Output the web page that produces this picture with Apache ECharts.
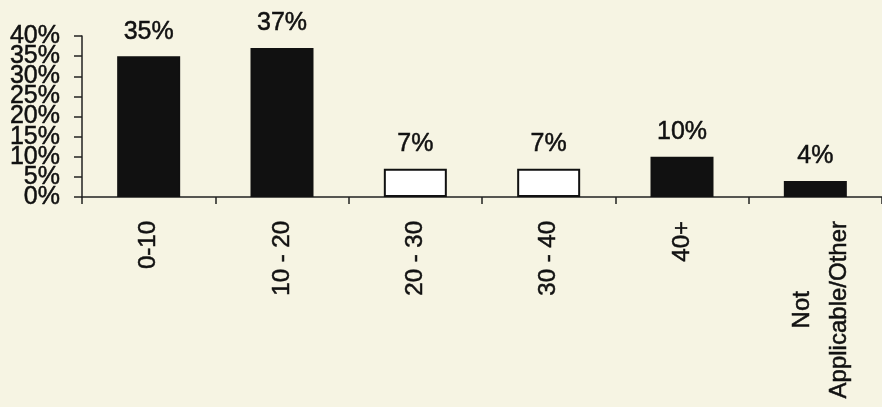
<!DOCTYPE html>
<html>
<head>
<meta charset="utf-8">
<script src="https://cdn.jsdelivr.net/npm/echarts@6/dist/echarts.min.js"></script>
<style>
  html, body { margin: 0; padding: 0; background: #f6f4e3; }
  #chart { width: 882px; height: 407px; }
</style>
</head>
<body>
<div id="chart"></div>
<script>
// Share of responses by range
const categories = ['0-10', '10 - 20', '20 - 30', '30 - 40', '40+', 'Not\nApplicable/Other'];
const percentValues = [35, 37, 7, 7, 10, 4];
const barFills = ['#111111', '#111111', '#ffffff', '#ffffff', '#111111', '#111111'];
const yTickLabels = ['0%', '5%', '10%', '15%', '20%', '25%', '30%', '35%', '40%'];

const FONT = '"Liberation Sans", Arial, Helvetica, sans-serif';
const INK = '#111111';
const Y_MIN = 0, Y_MAX = 40, Y_STEP = 5;

const chart = echarts.init(document.getElementById('chart'));

// The percent labels sit so close together that they touch; they are split
// across two stacked value axes (even steps / odd steps) sharing one scale.
function yLabelStyle(parity) {
  return {
    margin: 22,
    showMinLabel: parity === 0 ? true : false,
    showMaxLabel: parity === 0 ? true : false,
    hideOverlap: false,
    color: INK,
    fontFamily: FONT,
    fontSize: 25,
    lineHeight: 12,
    textBorderColor: INK,
    textBorderWidth: 0.5,
    formatter: function (v) {
      const idx = Math.round(v / Y_STEP);
      return idx % 2 === parity ? yTickLabels[idx] : '';
    }
  };
}

// Two-line category labels get a little extra room before the first line.
const categoryItems = categories.map(function (c) {
  return c.indexOf('\n') >= 0 ? { value: c, textStyle: { padding: [12, 0, 0, 0] } } : c;
});

chart.setOption({
  backgroundColor: '#f6f4e3',
  animation: false,
  grid: { left: 82, right: -4, top: 36, bottom: 210, containLabel: false },
  xAxis: {
    type: 'category',
    data: categoryItems,
    boundaryGap: true,
    axisLine: { show: true, lineStyle: { color: '#222', width: 1.5 } },
    axisTick: { show: true, alignWithLabel: false, interval: 0, length: 7, lineStyle: { color: '#222', width: 1.5 } },
    axisLabel: {
      interval: 0,
      rotate: 90,
      margin: 24,
      hideOverlap: false,
      color: INK,
      fontFamily: FONT,
      fontSize: 24,
      textBorderColor: INK,
      textBorderWidth: 0.5,
      formatter: function (v) {
        return v.split('\n').map(function (s) { return '{c|' + s + '}'; }).join('\n');
      },
      rich: {
        c: { align: 'center', fontFamily: FONT, fontSize: 24, color: INK, lineHeight: 37,
             textBorderColor: INK, textBorderWidth: 0.5 }
      }
    }
  },
  yAxis: [{
    type: 'value',
    position: 'left',
    min: Y_MIN,
    max: Y_MAX,
    interval: Y_STEP * 2,
    splitLine: { show: false },
    axisLine: { show: true, lineStyle: { color: '#222', width: 1.5 } },
    axisTick: { show: true, length: 8, lineStyle: { color: '#222', width: 1.5 } },
    axisLabel: yLabelStyle(0)
  }, {
    type: 'value',
    position: 'left',
    offset: 0,
    min: Y_MIN,
    max: Y_MAX,
    interval: Y_STEP,
    splitLine: { show: false },
    axisLine: { show: false },
    axisTick: { show: true, length: 8, lineStyle: { color: '#222', width: 1.5 } },
    axisLabel: yLabelStyle(1)
  }],
  series: [{
    type: 'bar',
    yAxisIndex: 0,
    barWidth: 63,
    data: percentValues.map(function (v, i) {
      return {
        value: v,
        itemStyle: { color: barFills[i], borderColor: INK, borderWidth: 2 }
      };
    }),
    label: {
      show: true,
      position: 'top',
      distance: 12,
      color: INK,
      fontFamily: FONT,
      fontSize: 25,
      textBorderColor: INK,
      textBorderWidth: 0.5,
      formatter: '{c}%'
    }
  }]
});
</script>
</body>
</html>
